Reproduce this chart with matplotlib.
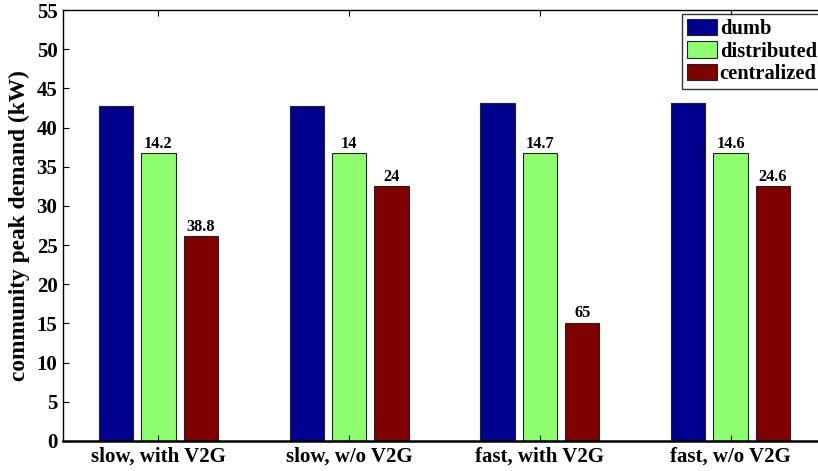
import numpy as np
import matplotlib.pyplot as plt

# Peak demand per charging scenario (kW)
scenarios = ['slow, with V2G', 'slow, w/o V2G', 'fast, with V2G', 'fast, w/o V2G']
dumb = [42.75, 42.75, 43.1, 43.1]
distributed = [36.7, 36.75, 36.75, 36.7]
centralized = [26.15, 32.5, 15.1, 32.5]

# Reduction relative to dumb charging (%)
dist_reduction = ['14.2', '14', '14.7', '14.6']
cent_reduction = ['38.8', '24', '65', '24.6']

plt.rcParams['font.family'] = 'Liberation Serif'
plt.rcParams['font.weight'] = 'bold'

fig = plt.figure(figsize=(8.18, 4.71), dpi=100)
ax = fig.add_axes([63 / 818, 1 - 441 / 471, 763 / 818, 431 / 471])

x = np.arange(1, len(scenarios) + 1)
off = 0.222
w = 0.18
ax.bar(x - off, dumb, w, color='#00008F', edgecolor='#222222', linewidth=0.8, label='dumb')
b2 = ax.bar(x, distributed, w, color='#8FFF70', edgecolor='#222222', linewidth=0.8, label='distributed')
b3 = ax.bar(x + off, centralized, w, color='#800000', edgecolor='#222222', linewidth=0.8, label='centralized')

for bar, txt in zip(b2, dist_reduction):
    ax.text(bar.get_x() + bar.get_width() / 2, bar.get_height() + 0.15, txt,
            ha='center', va='bottom', fontsize=11.8, fontweight='bold')
for bar, txt in zip(b3, cent_reduction):
    ax.text(bar.get_x() + bar.get_width() / 2, bar.get_height() + 0.15, txt,
            ha='center', va='bottom', fontsize=11.8, fontweight='bold')

ax.set_xlim(0.5, 4.5)
ax.set_ylim(0, 55)
ax.set_yticks(np.arange(0, 56, 5))
ax.set_xticks(x)
ax.set_xticklabels(scenarios)
ax.tick_params(direction='in', top=True, right=True, labelsize=15, length=4, width=0.8, pad=4)
ax.set_ylabel('community peak demand (kW)', fontsize=16.8, fontweight='bold', labelpad=5)
for s in ax.spines.values():
    s.set_linewidth(1.0)
ax.spines['bottom'].set_linewidth(1.8)

leg = ax.legend(loc='upper right', fontsize=14.8, frameon=True, fancybox=False,
                edgecolor='black', borderaxespad=0.2, labelspacing=0.1,
                handlelength=1.45, handleheight=0.83, handletextpad=0.15, borderpad=0.25)
leg.get_frame().set_linewidth(1.0)

fig.savefig('out.png', dpi=100)
